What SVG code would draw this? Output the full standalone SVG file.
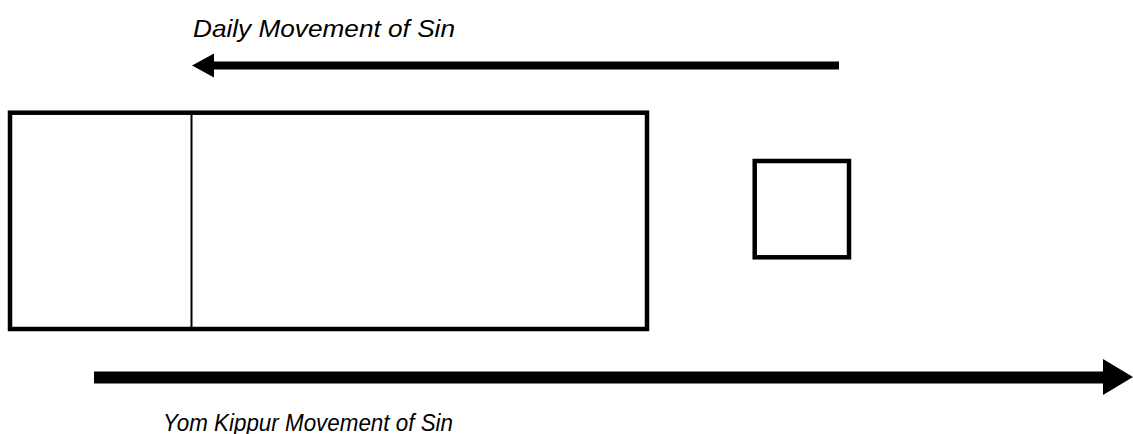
<svg xmlns="http://www.w3.org/2000/svg" width="1133" height="434" viewBox="0 0 1133 434">
<style>
.box{fill:none;stroke:#000;stroke-width:4.5}
.div{stroke:#000;stroke-width:2}
.lbl{font-family:"Liberation Sans",Arial,sans-serif;font-style:italic;font-size:24px;fill:#000}
</style>
<rect width="1133" height="434" fill="#fff"/>
<g id="label-daily"><text class="lbl" x="193" y="37" textLength="262" lengthAdjust="spacingAndGlyphs">Daily Movement of Sin</text></g>
<g id="main-room">
<rect class="box" x="10" y="112.7" width="637" height="216.3"/>
<line class="div" x1="191.5" y1="112.7" x2="191.5" y2="329"/>
</g>
<g id="small-square"><rect class="box" x="754.7" y="161" width="94.3" height="96.3"/></g>
<g id="connectors">
<line x1="839" y1="65.5" x2="210" y2="65.5" stroke="#000" stroke-width="8"/>
<polygon points="192,65.5 214,53.5 214,77.5" fill="#000"/>
<line x1="94" y1="377.5" x2="1106" y2="377.5" stroke="#000" stroke-width="12"/>
<polygon points="1133,377 1103,359 1103,395" fill="#000"/>
</g>
<g id="label-yom"><text class="lbl" x="163" y="431" textLength="290" lengthAdjust="spacingAndGlyphs">Yom Kippur Movement of Sin</text></g>
</svg>
